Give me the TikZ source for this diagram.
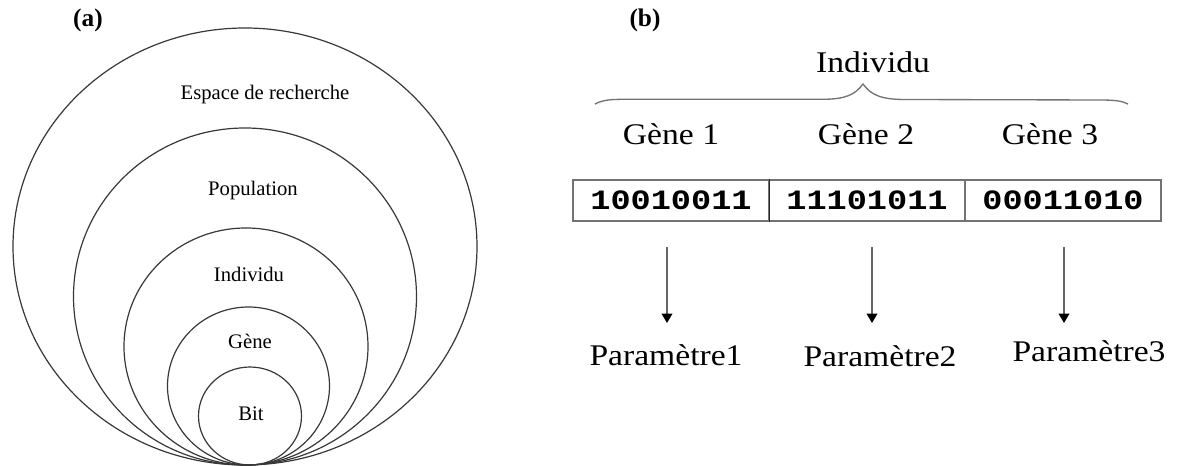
\documentclass[tikz,border=0pt]{standalone}
\usepackage{fontspec}
\setmainfont{Liberation Serif}
\newfontfamily\widefont[FakeStretch=1.12]{Liberation Serif}
\newfontfamily\bitfont[FakeStretch=1.2]{Liberation Mono}
\usetikzlibrary{arrows.meta}
\begin{document}
\begin{tikzpicture}[x=0.75pt,y=-0.75pt,
  ring/.style={draw=black!78,line width=0.9pt},
  tag/.style={font=\fontsize{19}{22}\selectfont\bfseries,inner sep=0pt,anchor=base},
  lab/.style={font=\fontsize{15.5}{18}\selectfont,inner sep=0pt,anchor=base},
  blab/.style={font=\widefont\fontsize{22.5}{26}\selectfont,inner sep=0pt,anchor=base},
  cell/.style={draw=black!55,line width=1.1pt,minimum width=147pt,minimum height=30.75pt,
    inner sep=0pt,font=\bitfont\bfseries\fontsize{21}{24}\selectfont},
  arr/.style={draw=black!60,line width=1.1pt,-{Triangle[length=7pt,width=8pt,color=black,fill=black]}},
  bracestyle/.style={draw=black!55,line width=1pt}]
\useasboundingbox (0,0) rectangle (1179,466);

% ---------- (a) nested spaces ----------
\node[tag] (ta) at (88,27) {(a)};
\draw[ring] (245,246.5) ellipse [x radius=232, y radius=218.5];
\draw[ring] (245,296.5) ellipse [x radius=171.5, y radius=168.5];
\draw[ring] (246,346.5) ellipse [x radius=122, y radius=118.5];
\draw[ring] (248.5,386) ellipse [x radius=81, y radius=79];
\draw[ring] (250,416) ellipse [x radius=51.5, y radius=49];
\node[lab] (espace) at (265,100) {Espace de recherche};
\node[lab] (pop) at (253,196) {Population};
\node[lab] (ind) at (249,282) {Individu};
\node[lab] (gene) at (250,349) {Gène};
\node[lab] (bit) at (251,421) {Bit};

% ---------- (b) chromosome coding ----------
\node[tag] (tb) at (645,27) {(b)};
\node[blab] (indiv) at (873,73) {Individu};
\draw[bracestyle] (595,104) .. controls (603,100) and (610,99.3) .. (625,99.3)
  -- (822,99.3) .. controls (845,99.3) and (855,95) .. (863,84)
  .. controls (871,95) and (881,99.5) .. (905,99.5)
  -- (1100,100) .. controls (1115,100) and (1122,101) .. (1128,104);

\node[blab] (g1) at (671,145) {Gène 1};
\node[blab] (g2) at (866,145) {Gène 2};
\node[blab] (g3) at (1050,145) {Gène 3};

\node[cell] (c1) at (671,200.5) {10010011};
\node[cell] (c2) at (867,200.5) {11101011};
\node[cell] (c3) at (1063,200.5) {00011010};
\draw[black!85,line width=1.1pt] (c1.north east) -- (c1.south east);

\coordinate (s1) at (667,247);
\coordinate (e1) at (667,323);
\coordinate (s2) at (872,247);
\coordinate (e2) at (872,323);
\coordinate (s3) at (1064,247);
\coordinate (e3) at (1064,323);
\draw[arr] (s1) -- (e1);
\draw[arr] (s2) -- (e2);
\draw[arr] (s3) -- (e3);

\node[blab] (p1) at (666,366) {Paramètre1};
\node[blab] (p2) at (880,367) {Paramètre2};
\node[blab] (p3) at (1089,362) {Paramètre3};
\end{tikzpicture}
\end{document}
